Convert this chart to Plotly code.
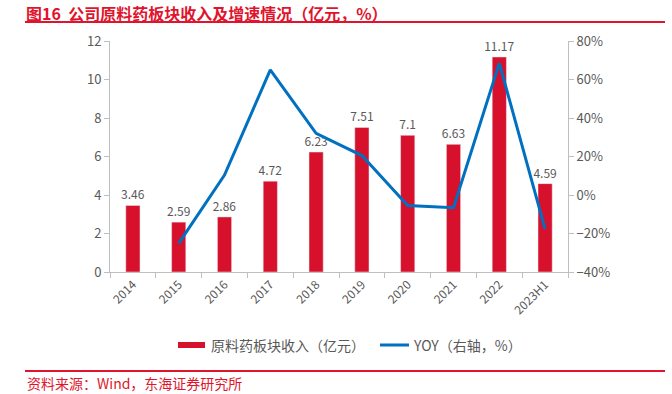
import plotly.graph_objects as go

categories = ["2014", "2015", "2016", "2017", "2018", "2019", "2020", "2021", "2022", "2023H1"]
revenue = [3.46, 2.59, 2.86, 4.72, 6.23, 7.51, 7.1, 6.63, 11.17, 4.59]
revenue_labels = ["3.46", "2.59", "2.86", "4.72", "6.23", "7.51", "7.1", "6.63", "11.17", "4.59"]
yoy = [None, -25.1, 10.4, 65.0, 32.0, 20.5, -5.5, -6.6, 68.5, -17.7]

FONT = "Noto Sans CJK SC, Liberation Sans, sans-serif"
RED = "#D7102B"
BLUE = "#0070C0"
GRAY = "#595959"
AXIS = "#BFBFBF"
TRED = "#E0142C"

# plot area pixel geometry
L, R, T, B = 110, 568, 41, 272
W, H = 672, 394
pw, ph = R - L, B - T

def px(x):
    return (x - L) / pw

def py(y):
    return (B - y) / ph

fig = go.Figure()
fig.add_trace(go.Bar(
    x=categories, y=revenue, name="原料药板块收入（亿元）",
    marker_color=RED, width=0.31,
    text=revenue_labels, textposition="outside", constraintext="none",
    textfont=dict(color=GRAY, size=12, family=FONT),
    cliponaxis=False, showlegend=False,
))
fig.add_trace(go.Scatter(
    x=categories, y=yoy, name="YOY（右轴，%）", yaxis="y2",
    mode="lines", line=dict(color=BLUE, width=3), showlegend=False,
))

fig.update_layout(
    width=W, height=H,
    margin=dict(l=L, r=W - R, t=T, b=H - B, autoexpand=False),
    plot_bgcolor="white", paper_bgcolor="white",
    font=dict(family=FONT, color=GRAY, size=13),
    showlegend=False,
    xaxis=dict(type="category", showline=True, linecolor=AXIS, linewidth=1,
               ticks="outside", tickson="boundaries", ticklen=5, tickcolor=AXIS,
               tickangle=-45, tickfont=dict(size=12, color=GRAY), showgrid=False,
               automargin=False),
    yaxis=dict(range=[0, 12], dtick=2, showline=True, linecolor=AXIS, linewidth=1,
               ticks="outside", ticklen=5, tickcolor=AXIS, showgrid=False, zeroline=False,
               tickfont=dict(size=13, color=GRAY), automargin=False),
    yaxis2=dict(range=[-40, 80], dtick=20, overlaying="y", side="right", ticksuffix="%",
                showline=True, linecolor=AXIS, linewidth=1, ticks="outside", ticklen=5,
                tickcolor=AXIS, showgrid=False, zeroline=False,
                tickfont=dict(size=13, color=GRAY), automargin=False),
)

# title
fig.add_annotation(text="<b>图16  公司原料药板块收入及增速情况（亿元，%）</b>", xref="paper", yref="paper",
                   x=px(25), y=py(0), xanchor="left", yanchor="top", showarrow=False,
                   borderpad=0, font=dict(size=16, color=TRED, family=FONT))

# rules
for yy in (22, 371):
    fig.add_shape(type="line", xref="paper", yref="paper", x0=px(25), x1=px(665), y0=py(yy), y1=py(yy),
                  line=dict(color=TRED, width=2))
fig.add_annotation(text="资料来源：Wind，东海证券研究所", xref="paper", yref="paper",
                   x=px(25), y=py(383), xanchor="left", yanchor="middle", showarrow=False,
                   font=dict(size=14, color=TRED, family=FONT))

# legend
fig.add_shape(type="rect", xref="paper", yref="paper", x0=px(178), x1=px(205), y0=py(348), y1=py(342),
              fillcolor=RED, line=dict(width=0))
fig.add_annotation(text="原料药板块收入（亿元）", xref="paper", yref="paper", x=px(209), y=py(345),
                   xanchor="left", yanchor="middle", showarrow=False, font=dict(size=14, color=GRAY))
fig.add_shape(type="line", xref="paper", yref="paper", x0=px(380), x1=px(409), y0=py(345), y1=py(345),
              line=dict(color=BLUE, width=3))
fig.add_annotation(text="YOY（右轴，%）", xref="paper", yref="paper", x=px(411), y=py(345),
                   xanchor="left", yanchor="middle", showarrow=False, font=dict(size=14, color=GRAY))

fig.write_html("out.html", config={"displayModeBar": False},
               post_script="document.body.style.margin='0';document.body.style.overflow='hidden';")
